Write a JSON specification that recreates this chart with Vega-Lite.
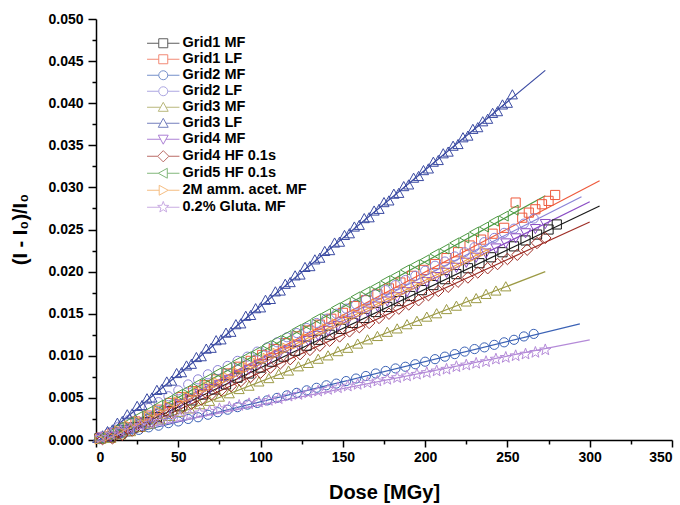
{
"$schema":"https://vega.github.io/schema/vega-lite/v6.json",
"width":576,"height":421,
"autosize":{"type":"none"},
"padding":{"left":96,"top":19,"right":8,"bottom":65},
"background":"white",
"config":{"view":{"stroke":null},"font":"Liberation Sans",
"axis":{"grid":false,"domainColor":"black","tickColor":"black","labelColor":"black","titleColor":"black","labelFont":"Liberation Sans","titleFont":"Liberation Sans","labelFontWeight":"bold","titleFontWeight":"bold","labelFontSize":14,"titleFontSize":20,"domainWidth":1.5,"tickWidth":1.5}},
"datasets":{
"fits":[
{"s":"Grid1 MF","d":8,"v":0},{"s":"Grid1 MF","d":306,"v":0.0278},
{"s":"Grid1 LF","d":5,"v":0},{"s":"Grid1 LF","d":306,"v":0.0308},
{"s":"Grid2 MF","d":5,"v":0},{"s":"Grid2 MF","d":294,"v":0.0138},
{"s":"Grid2 LF","d":3,"v":0},{"s":"Grid2 LF","d":295,"v":0.0289},
{"s":"Grid3 MF","d":8,"v":0},{"s":"Grid3 MF","d":273,"v":0.0200},
{"s":"Grid3 LF","d":2,"v":0},{"s":"Grid3 LF","d":273,"v":0.0439},
{"s":"Grid4 MF","d":6,"v":0},{"s":"Grid4 MF","d":300,"v":0.0283},
{"s":"Grid4 HF 0.1s","d":10,"v":0},{"s":"Grid4 HF 0.1s","d":300,"v":0.0259},
{"s":"Grid5 HF 0.1s","d":3,"v":0},{"s":"Grid5 HF 0.1s","d":273,"v":0.0290},
{"s":"2M amm. acet. MF","d":3,"v":0},{"s":"2M amm. acet. MF","d":240,"v":0.0228},
{"s":"0.2% Gluta. MF","d":0,"v":0.0003},{"s":"0.2% Gluta. MF","d":300,"v":0.0119}
],
"pts":[
{"s":"Grid1 MF","d":2,"v":0.0002},{"s":"Grid1 MF","d":9,"v":0.0004},{"s":"Grid1 MF","d":16,"v":0.0009},{"s":"Grid1 MF","d":23,"v":0.0015},{"s":"Grid1 MF","d":30,"v":0.0021},{"s":"Grid1 MF","d":37,"v":0.0027},{"s":"Grid1 MF","d":44,"v":0.0034},{"s":"Grid1 MF","d":51,"v":0.0040},{"s":"Grid1 MF","d":58,"v":0.0047},{"s":"Grid1 MF","d":65,"v":0.0054},{"s":"Grid1 MF","d":72,"v":0.0060},{"s":"Grid1 MF","d":79,"v":0.0066},{"s":"Grid1 MF","d":86,"v":0.0074},{"s":"Grid1 MF","d":93,"v":0.0079},{"s":"Grid1 MF","d":100,"v":0.0086},{"s":"Grid1 MF","d":107,"v":0.0093},{"s":"Grid1 MF","d":114,"v":0.0099},{"s":"Grid1 MF","d":121,"v":0.0106},{"s":"Grid1 MF","d":128,"v":0.0112},{"s":"Grid1 MF","d":135,"v":0.0119},{"s":"Grid1 MF","d":142,"v":0.0125},{"s":"Grid1 MF","d":149,"v":0.0132},{"s":"Grid1 MF","d":156,"v":0.0139},{"s":"Grid1 MF","d":163,"v":0.0145},{"s":"Grid1 MF","d":170,"v":0.0152},{"s":"Grid1 MF","d":177,"v":0.0158},{"s":"Grid1 MF","d":184,"v":0.0165},{"s":"Grid1 MF","d":191,"v":0.0171},{"s":"Grid1 MF","d":198,"v":0.0178},{"s":"Grid1 MF","d":205,"v":0.0184},{"s":"Grid1 MF","d":212,"v":0.0191},{"s":"Grid1 MF","d":219,"v":0.0197},{"s":"Grid1 MF","d":226,"v":0.0204},{"s":"Grid1 MF","d":233,"v":0.0210},{"s":"Grid1 MF","d":240,"v":0.0217},{"s":"Grid1 MF","d":247,"v":0.0223},{"s":"Grid1 MF","d":254,"v":0.0230},{"s":"Grid1 MF","d":261,"v":0.0237},{"s":"Grid1 MF","d":268,"v":0.0244},{"s":"Grid1 MF","d":275,"v":0.0250},{"s":"Grid1 MF","d":280,"v":0.0256},
{"s":"Grid1 LF","d":3,"v":0.0003},{"s":"Grid1 LF","d":10,"v":0.0008},{"s":"Grid1 LF","d":17,"v":0.0015},{"s":"Grid1 LF","d":24,"v":0.0022},{"s":"Grid1 LF","d":31,"v":0.0029},{"s":"Grid1 LF","d":38,"v":0.0036},{"s":"Grid1 LF","d":45,"v":0.0044},{"s":"Grid1 LF","d":52,"v":0.0051},{"s":"Grid1 LF","d":59,"v":0.0058},{"s":"Grid1 LF","d":66,"v":0.0065},{"s":"Grid1 LF","d":73,"v":0.0072},{"s":"Grid1 LF","d":80,"v":0.0079},{"s":"Grid1 LF","d":87,"v":0.0087},{"s":"Grid1 LF","d":94,"v":0.0094},{"s":"Grid1 LF","d":101,"v":0.0101},{"s":"Grid1 LF","d":108,"v":0.0108},{"s":"Grid1 LF","d":115,"v":0.0115},{"s":"Grid1 LF","d":122,"v":0.0123},{"s":"Grid1 LF","d":129,"v":0.0130},{"s":"Grid1 LF","d":136,"v":0.0137},{"s":"Grid1 LF","d":143,"v":0.0144},{"s":"Grid1 LF","d":150,"v":0.0151},{"s":"Grid1 LF","d":157,"v":0.0159},{"s":"Grid1 LF","d":164,"v":0.0166},{"s":"Grid1 LF","d":171,"v":0.0173},{"s":"Grid1 LF","d":178,"v":0.0180},{"s":"Grid1 LF","d":185,"v":0.0187},{"s":"Grid1 LF","d":192,"v":0.0195},{"s":"Grid1 LF","d":199,"v":0.0202},{"s":"Grid1 LF","d":206,"v":0.0209},{"s":"Grid1 LF","d":213,"v":0.0216},{"s":"Grid1 LF","d":220,"v":0.0223},{"s":"Grid1 LF","d":227,"v":0.0231},{"s":"Grid1 LF","d":234,"v":0.0238},{"s":"Grid1 LF","d":241,"v":0.0245},{"s":"Grid1 LF","d":248,"v":0.0252},{"s":"Grid1 LF","d":255,"v":0.0282},{"s":"Grid1 LF","d":259,"v":0.0264},{"s":"Grid1 LF","d":263,"v":0.0270},{"s":"Grid1 LF","d":267,"v":0.0274},{"s":"Grid1 LF","d":271,"v":0.0280},{"s":"Grid1 LF","d":275,"v":0.0284},{"s":"Grid1 LF","d":279,"v":0.0291},
{"s":"Grid2 MF","d":2,"v":0.0001},{"s":"Grid2 MF","d":8,"v":0.0004},{"s":"Grid2 MF","d":14,"v":0.0007},{"s":"Grid2 MF","d":20,"v":0.0010},{"s":"Grid2 MF","d":26,"v":0.0012},{"s":"Grid2 MF","d":32,"v":0.0015},{"s":"Grid2 MF","d":38,"v":0.0017},{"s":"Grid2 MF","d":44,"v":0.0020},{"s":"Grid2 MF","d":50,"v":0.0022},{"s":"Grid2 MF","d":56,"v":0.0025},{"s":"Grid2 MF","d":62,"v":0.0027},{"s":"Grid2 MF","d":68,"v":0.0030},{"s":"Grid2 MF","d":74,"v":0.0033},{"s":"Grid2 MF","d":80,"v":0.0036},{"s":"Grid2 MF","d":86,"v":0.0039},{"s":"Grid2 MF","d":92,"v":0.0042},{"s":"Grid2 MF","d":98,"v":0.0044},{"s":"Grid2 MF","d":104,"v":0.0047},{"s":"Grid2 MF","d":110,"v":0.0050},{"s":"Grid2 MF","d":116,"v":0.0053},{"s":"Grid2 MF","d":122,"v":0.0056},{"s":"Grid2 MF","d":128,"v":0.0059},{"s":"Grid2 MF","d":134,"v":0.0062},{"s":"Grid2 MF","d":140,"v":0.0065},{"s":"Grid2 MF","d":146,"v":0.0067},{"s":"Grid2 MF","d":152,"v":0.0070},{"s":"Grid2 MF","d":158,"v":0.0073},{"s":"Grid2 MF","d":164,"v":0.0076},{"s":"Grid2 MF","d":170,"v":0.0079},{"s":"Grid2 MF","d":176,"v":0.0082},{"s":"Grid2 MF","d":182,"v":0.0085},{"s":"Grid2 MF","d":188,"v":0.0087},{"s":"Grid2 MF","d":194,"v":0.0090},{"s":"Grid2 MF","d":200,"v":0.0093},{"s":"Grid2 MF","d":206,"v":0.0096},{"s":"Grid2 MF","d":212,"v":0.0099},{"s":"Grid2 MF","d":218,"v":0.0102},{"s":"Grid2 MF","d":224,"v":0.0105},{"s":"Grid2 MF","d":230,"v":0.0108},{"s":"Grid2 MF","d":236,"v":0.0110},{"s":"Grid2 MF","d":242,"v":0.0113},{"s":"Grid2 MF","d":248,"v":0.0116},{"s":"Grid2 MF","d":254,"v":0.0119},{"s":"Grid2 MF","d":260,"v":0.0123},{"s":"Grid2 MF","d":266,"v":0.0126},
{"s":"Grid2 LF","d":2,"v":0.0003},{"s":"Grid2 LF","d":8,"v":0.0009},{"s":"Grid2 LF","d":14,"v":0.0016},{"s":"Grid2 LF","d":20,"v":0.0024},{"s":"Grid2 LF","d":26,"v":0.0031},{"s":"Grid2 LF","d":32,"v":0.0038},{"s":"Grid2 LF","d":38,"v":0.0045},{"s":"Grid2 LF","d":44,"v":0.0052},{"s":"Grid2 LF","d":50,"v":0.0059},{"s":"Grid2 LF","d":56,"v":0.0066},{"s":"Grid2 LF","d":62,"v":0.0072},{"s":"Grid2 LF","d":68,"v":0.0078},{"s":"Grid2 LF","d":74,"v":0.0083},{"s":"Grid2 LF","d":80,"v":0.0088},{"s":"Grid2 LF","d":86,"v":0.0094},{"s":"Grid2 LF","d":92,"v":0.0099},{"s":"Grid2 LF","d":98,"v":0.0105},{"s":"Grid2 LF","d":104,"v":0.0110},{"s":"Grid2 LF","d":110,"v":0.0116},{"s":"Grid2 LF","d":116,"v":0.0122},{"s":"Grid2 LF","d":122,"v":0.0127},{"s":"Grid2 LF","d":128,"v":0.0133},{"s":"Grid2 LF","d":134,"v":0.0139},{"s":"Grid2 LF","d":140,"v":0.0144},{"s":"Grid2 LF","d":146,"v":0.0150},{"s":"Grid2 LF","d":152,"v":0.0156},{"s":"Grid2 LF","d":158,"v":0.0161},{"s":"Grid2 LF","d":164,"v":0.0167},{"s":"Grid2 LF","d":170,"v":0.0173},{"s":"Grid2 LF","d":176,"v":0.0178},{"s":"Grid2 LF","d":182,"v":0.0184},{"s":"Grid2 LF","d":188,"v":0.0190},{"s":"Grid2 LF","d":194,"v":0.0195},{"s":"Grid2 LF","d":200,"v":0.0201},{"s":"Grid2 LF","d":206,"v":0.0207},{"s":"Grid2 LF","d":212,"v":0.0212},{"s":"Grid2 LF","d":218,"v":0.0218},{"s":"Grid2 LF","d":224,"v":0.0223},{"s":"Grid2 LF","d":230,"v":0.0229},{"s":"Grid2 LF","d":236,"v":0.0235},{"s":"Grid2 LF","d":242,"v":0.0240},{"s":"Grid2 LF","d":248,"v":0.0246},{"s":"Grid2 LF","d":254,"v":0.0251},{"s":"Grid2 LF","d":260,"v":0.0257},{"s":"Grid2 LF","d":266,"v":0.0263},
{"s":"Grid3 MF","d":3,"v":0.0001},{"s":"Grid3 MF","d":9,"v":0.0002},{"s":"Grid3 MF","d":15,"v":0.0006},{"s":"Grid3 MF","d":21,"v":0.0010},{"s":"Grid3 MF","d":27,"v":0.0015},{"s":"Grid3 MF","d":33,"v":0.0019},{"s":"Grid3 MF","d":39,"v":0.0024},{"s":"Grid3 MF","d":45,"v":0.0028},{"s":"Grid3 MF","d":51,"v":0.0033},{"s":"Grid3 MF","d":57,"v":0.0037},{"s":"Grid3 MF","d":63,"v":0.0042},{"s":"Grid3 MF","d":69,"v":0.0046},{"s":"Grid3 MF","d":75,"v":0.0051},{"s":"Grid3 MF","d":81,"v":0.0055},{"s":"Grid3 MF","d":87,"v":0.0060},{"s":"Grid3 MF","d":93,"v":0.0064},{"s":"Grid3 MF","d":99,"v":0.0069},{"s":"Grid3 MF","d":105,"v":0.0073},{"s":"Grid3 MF","d":111,"v":0.0078},{"s":"Grid3 MF","d":117,"v":0.0082},{"s":"Grid3 MF","d":123,"v":0.0087},{"s":"Grid3 MF","d":129,"v":0.0091},{"s":"Grid3 MF","d":135,"v":0.0096},{"s":"Grid3 MF","d":141,"v":0.0100},{"s":"Grid3 MF","d":147,"v":0.0105},{"s":"Grid3 MF","d":153,"v":0.0109},{"s":"Grid3 MF","d":159,"v":0.0114},{"s":"Grid3 MF","d":165,"v":0.0119},{"s":"Grid3 MF","d":171,"v":0.0123},{"s":"Grid3 MF","d":177,"v":0.0128},{"s":"Grid3 MF","d":183,"v":0.0132},{"s":"Grid3 MF","d":189,"v":0.0137},{"s":"Grid3 MF","d":195,"v":0.0141},{"s":"Grid3 MF","d":201,"v":0.0146},{"s":"Grid3 MF","d":207,"v":0.0150},{"s":"Grid3 MF","d":213,"v":0.0155},{"s":"Grid3 MF","d":219,"v":0.0159},{"s":"Grid3 MF","d":225,"v":0.0164},{"s":"Grid3 MF","d":231,"v":0.0168},{"s":"Grid3 MF","d":237,"v":0.0173},{"s":"Grid3 MF","d":243,"v":0.0177},{"s":"Grid3 MF","d":249,"v":0.0182},
{"s":"Grid3 LF","d":1,"v":0.0002},{"s":"Grid3 LF","d":4,"v":0.0005},{"s":"Grid3 LF","d":7,"v":0.0010},{"s":"Grid3 LF","d":10,"v":0.0012},{"s":"Grid3 LF","d":13,"v":0.0020},{"s":"Grid3 LF","d":16,"v":0.0022},{"s":"Grid3 LF","d":19,"v":0.0030},{"s":"Grid3 LF","d":22,"v":0.0031},{"s":"Grid3 LF","d":25,"v":0.0040},{"s":"Grid3 LF","d":28,"v":0.0041},{"s":"Grid3 LF","d":31,"v":0.0049},{"s":"Grid3 LF","d":34,"v":0.0050},{"s":"Grid3 LF","d":37,"v":0.0059},{"s":"Grid3 LF","d":40,"v":0.0060},{"s":"Grid3 LF","d":43,"v":0.0069},{"s":"Grid3 LF","d":46,"v":0.0070},{"s":"Grid3 LF","d":49,"v":0.0079},{"s":"Grid3 LF","d":52,"v":0.0080},{"s":"Grid3 LF","d":55,"v":0.0088},{"s":"Grid3 LF","d":58,"v":0.0090},{"s":"Grid3 LF","d":61,"v":0.0098},{"s":"Grid3 LF","d":64,"v":0.0099},{"s":"Grid3 LF","d":67,"v":0.0108},{"s":"Grid3 LF","d":70,"v":0.0109},{"s":"Grid3 LF","d":73,"v":0.0118},{"s":"Grid3 LF","d":76,"v":0.0119},{"s":"Grid3 LF","d":79,"v":0.0127},{"s":"Grid3 LF","d":82,"v":0.0128},{"s":"Grid3 LF","d":85,"v":0.0137},{"s":"Grid3 LF","d":88,"v":0.0138},{"s":"Grid3 LF","d":91,"v":0.0147},{"s":"Grid3 LF","d":94,"v":0.0148},{"s":"Grid3 LF","d":97,"v":0.0156},{"s":"Grid3 LF","d":100,"v":0.0157},{"s":"Grid3 LF","d":103,"v":0.0166},{"s":"Grid3 LF","d":106,"v":0.0167},{"s":"Grid3 LF","d":109,"v":0.0176},{"s":"Grid3 LF","d":112,"v":0.0177},{"s":"Grid3 LF","d":115,"v":0.0185},{"s":"Grid3 LF","d":118,"v":0.0187},{"s":"Grid3 LF","d":121,"v":0.0195},{"s":"Grid3 LF","d":124,"v":0.0196},{"s":"Grid3 LF","d":127,"v":0.0205},{"s":"Grid3 LF","d":130,"v":0.0206},{"s":"Grid3 LF","d":133,"v":0.0214},{"s":"Grid3 LF","d":136,"v":0.0216},{"s":"Grid3 LF","d":139,"v":0.0224},{"s":"Grid3 LF","d":142,"v":0.0225},{"s":"Grid3 LF","d":145,"v":0.0234},{"s":"Grid3 LF","d":148,"v":0.0235},{"s":"Grid3 LF","d":151,"v":0.0243},{"s":"Grid3 LF","d":154,"v":0.0245},{"s":"Grid3 LF","d":157,"v":0.0253},{"s":"Grid3 LF","d":160,"v":0.0255},{"s":"Grid3 LF","d":163,"v":0.0263},{"s":"Grid3 LF","d":166,"v":0.0264},{"s":"Grid3 LF","d":169,"v":0.0272},{"s":"Grid3 LF","d":172,"v":0.0274},{"s":"Grid3 LF","d":175,"v":0.0282},{"s":"Grid3 LF","d":178,"v":0.0284},{"s":"Grid3 LF","d":181,"v":0.0292},{"s":"Grid3 LF","d":184,"v":0.0293},{"s":"Grid3 LF","d":187,"v":0.0301},{"s":"Grid3 LF","d":190,"v":0.0303},{"s":"Grid3 LF","d":193,"v":0.0311},{"s":"Grid3 LF","d":196,"v":0.0313},{"s":"Grid3 LF","d":199,"v":0.0320},{"s":"Grid3 LF","d":202,"v":0.0322},{"s":"Grid3 LF","d":205,"v":0.0330},{"s":"Grid3 LF","d":208,"v":0.0332},{"s":"Grid3 LF","d":211,"v":0.0340},{"s":"Grid3 LF","d":214,"v":0.0342},{"s":"Grid3 LF","d":217,"v":0.0349},{"s":"Grid3 LF","d":220,"v":0.0351},{"s":"Grid3 LF","d":223,"v":0.0359},{"s":"Grid3 LF","d":226,"v":0.0361},{"s":"Grid3 LF","d":229,"v":0.0369},{"s":"Grid3 LF","d":232,"v":0.0371},{"s":"Grid3 LF","d":235,"v":0.0378},{"s":"Grid3 LF","d":238,"v":0.0381},{"s":"Grid3 LF","d":241,"v":0.0388},{"s":"Grid3 LF","d":244,"v":0.0390},{"s":"Grid3 LF","d":247,"v":0.0398},{"s":"Grid3 LF","d":250,"v":0.0400},{"s":"Grid3 LF","d":253,"v":0.0410},
{"s":"Grid4 MF","d":3,"v":0.0002},{"s":"Grid4 MF","d":9,"v":0.0004},{"s":"Grid4 MF","d":15,"v":0.0009},{"s":"Grid4 MF","d":21,"v":0.0014},{"s":"Grid4 MF","d":27,"v":0.0020},{"s":"Grid4 MF","d":33,"v":0.0026},{"s":"Grid4 MF","d":39,"v":0.0032},{"s":"Grid4 MF","d":45,"v":0.0038},{"s":"Grid4 MF","d":51,"v":0.0043},{"s":"Grid4 MF","d":57,"v":0.0049},{"s":"Grid4 MF","d":63,"v":0.0055},{"s":"Grid4 MF","d":69,"v":0.0061},{"s":"Grid4 MF","d":75,"v":0.0066},{"s":"Grid4 MF","d":81,"v":0.0072},{"s":"Grid4 MF","d":87,"v":0.0078},{"s":"Grid4 MF","d":93,"v":0.0084},{"s":"Grid4 MF","d":99,"v":0.0090},{"s":"Grid4 MF","d":105,"v":0.0095},{"s":"Grid4 MF","d":111,"v":0.0101},{"s":"Grid4 MF","d":117,"v":0.0107},{"s":"Grid4 MF","d":123,"v":0.0113},{"s":"Grid4 MF","d":129,"v":0.0118},{"s":"Grid4 MF","d":135,"v":0.0124},{"s":"Grid4 MF","d":141,"v":0.0130},{"s":"Grid4 MF","d":147,"v":0.0136},{"s":"Grid4 MF","d":153,"v":0.0142},{"s":"Grid4 MF","d":159,"v":0.0147},{"s":"Grid4 MF","d":165,"v":0.0153},{"s":"Grid4 MF","d":171,"v":0.0159},{"s":"Grid4 MF","d":177,"v":0.0165},{"s":"Grid4 MF","d":183,"v":0.0170},{"s":"Grid4 MF","d":189,"v":0.0176},{"s":"Grid4 MF","d":195,"v":0.0182},{"s":"Grid4 MF","d":201,"v":0.0188},{"s":"Grid4 MF","d":207,"v":0.0194},{"s":"Grid4 MF","d":213,"v":0.0199},{"s":"Grid4 MF","d":219,"v":0.0205},{"s":"Grid4 MF","d":225,"v":0.0211},{"s":"Grid4 MF","d":231,"v":0.0217},{"s":"Grid4 MF","d":237,"v":0.0222},{"s":"Grid4 MF","d":243,"v":0.0228},{"s":"Grid4 MF","d":249,"v":0.0234},{"s":"Grid4 MF","d":255,"v":0.0240},{"s":"Grid4 MF","d":261,"v":0.0246},{"s":"Grid4 MF","d":267,"v":0.0251},{"s":"Grid4 MF","d":273,"v":0.0257},
{"s":"Grid4 HF 0.1s","d":4,"v":0.0001},{"s":"Grid4 HF 0.1s","d":10,"v":0.0002},{"s":"Grid4 HF 0.1s","d":16,"v":0.0006},{"s":"Grid4 HF 0.1s","d":22,"v":0.0011},{"s":"Grid4 HF 0.1s","d":28,"v":0.0016},{"s":"Grid4 HF 0.1s","d":34,"v":0.0022},{"s":"Grid4 HF 0.1s","d":40,"v":0.0027},{"s":"Grid4 HF 0.1s","d":46,"v":0.0032},{"s":"Grid4 HF 0.1s","d":52,"v":0.0038},{"s":"Grid4 HF 0.1s","d":58,"v":0.0043},{"s":"Grid4 HF 0.1s","d":64,"v":0.0048},{"s":"Grid4 HF 0.1s","d":70,"v":0.0054},{"s":"Grid4 HF 0.1s","d":76,"v":0.0059},{"s":"Grid4 HF 0.1s","d":82,"v":0.0064},{"s":"Grid4 HF 0.1s","d":88,"v":0.0070},{"s":"Grid4 HF 0.1s","d":94,"v":0.0075},{"s":"Grid4 HF 0.1s","d":100,"v":0.0080},{"s":"Grid4 HF 0.1s","d":106,"v":0.0086},{"s":"Grid4 HF 0.1s","d":112,"v":0.0091},{"s":"Grid4 HF 0.1s","d":118,"v":0.0096},{"s":"Grid4 HF 0.1s","d":124,"v":0.0102},{"s":"Grid4 HF 0.1s","d":130,"v":0.0107},{"s":"Grid4 HF 0.1s","d":136,"v":0.0112},{"s":"Grid4 HF 0.1s","d":142,"v":0.0118},{"s":"Grid4 HF 0.1s","d":148,"v":0.0123},{"s":"Grid4 HF 0.1s","d":154,"v":0.0129},{"s":"Grid4 HF 0.1s","d":160,"v":0.0134},{"s":"Grid4 HF 0.1s","d":166,"v":0.0139},{"s":"Grid4 HF 0.1s","d":172,"v":0.0145},{"s":"Grid4 HF 0.1s","d":178,"v":0.0150},{"s":"Grid4 HF 0.1s","d":184,"v":0.0156},{"s":"Grid4 HF 0.1s","d":190,"v":0.0161},{"s":"Grid4 HF 0.1s","d":196,"v":0.0166},{"s":"Grid4 HF 0.1s","d":202,"v":0.0172},{"s":"Grid4 HF 0.1s","d":208,"v":0.0177},{"s":"Grid4 HF 0.1s","d":214,"v":0.0182},{"s":"Grid4 HF 0.1s","d":220,"v":0.0188},{"s":"Grid4 HF 0.1s","d":226,"v":0.0193},{"s":"Grid4 HF 0.1s","d":232,"v":0.0199},{"s":"Grid4 HF 0.1s","d":238,"v":0.0204},{"s":"Grid4 HF 0.1s","d":244,"v":0.0209},{"s":"Grid4 HF 0.1s","d":250,"v":0.0215},{"s":"Grid4 HF 0.1s","d":256,"v":0.0220},{"s":"Grid4 HF 0.1s","d":262,"v":0.0226},{"s":"Grid4 HF 0.1s","d":268,"v":0.0234},{"s":"Grid4 HF 0.1s","d":273,"v":0.0240},
{"s":"Grid5 HF 0.1s","d":2,"v":0.0002},{"s":"Grid5 HF 0.1s","d":8,"v":0.0007},{"s":"Grid5 HF 0.1s","d":14,"v":0.0015},{"s":"Grid5 HF 0.1s","d":20,"v":0.0021},{"s":"Grid5 HF 0.1s","d":26,"v":0.0028},{"s":"Grid5 HF 0.1s","d":32,"v":0.0034},{"s":"Grid5 HF 0.1s","d":38,"v":0.0041},{"s":"Grid5 HF 0.1s","d":44,"v":0.0047},{"s":"Grid5 HF 0.1s","d":50,"v":0.0054},{"s":"Grid5 HF 0.1s","d":56,"v":0.0060},{"s":"Grid5 HF 0.1s","d":62,"v":0.0067},{"s":"Grid5 HF 0.1s","d":68,"v":0.0073},{"s":"Grid5 HF 0.1s","d":74,"v":0.0080},{"s":"Grid5 HF 0.1s","d":80,"v":0.0086},{"s":"Grid5 HF 0.1s","d":86,"v":0.0093},{"s":"Grid5 HF 0.1s","d":92,"v":0.0099},{"s":"Grid5 HF 0.1s","d":98,"v":0.0105},{"s":"Grid5 HF 0.1s","d":104,"v":0.0112},{"s":"Grid5 HF 0.1s","d":110,"v":0.0118},{"s":"Grid5 HF 0.1s","d":116,"v":0.0124},{"s":"Grid5 HF 0.1s","d":122,"v":0.0131},{"s":"Grid5 HF 0.1s","d":128,"v":0.0137},{"s":"Grid5 HF 0.1s","d":134,"v":0.0144},{"s":"Grid5 HF 0.1s","d":140,"v":0.0150},{"s":"Grid5 HF 0.1s","d":146,"v":0.0157},{"s":"Grid5 HF 0.1s","d":152,"v":0.0163},{"s":"Grid5 HF 0.1s","d":158,"v":0.0170},{"s":"Grid5 HF 0.1s","d":164,"v":0.0176},{"s":"Grid5 HF 0.1s","d":170,"v":0.0182},{"s":"Grid5 HF 0.1s","d":176,"v":0.0189},{"s":"Grid5 HF 0.1s","d":182,"v":0.0195},{"s":"Grid5 HF 0.1s","d":188,"v":0.0202},{"s":"Grid5 HF 0.1s","d":194,"v":0.0208},{"s":"Grid5 HF 0.1s","d":200,"v":0.0214},{"s":"Grid5 HF 0.1s","d":206,"v":0.0221},{"s":"Grid5 HF 0.1s","d":212,"v":0.0227},{"s":"Grid5 HF 0.1s","d":218,"v":0.0234},{"s":"Grid5 HF 0.1s","d":224,"v":0.0240},{"s":"Grid5 HF 0.1s","d":230,"v":0.0247},{"s":"Grid5 HF 0.1s","d":236,"v":0.0253},{"s":"Grid5 HF 0.1s","d":242,"v":0.0260},{"s":"Grid5 HF 0.1s","d":248,"v":0.0266},{"s":"Grid5 HF 0.1s","d":254,"v":0.0273},
{"s":"2M amm. acet. MF","d":2,"v":0.0001},{"s":"2M amm. acet. MF","d":8,"v":0.0005},{"s":"2M amm. acet. MF","d":14,"v":0.0011},{"s":"2M amm. acet. MF","d":20,"v":0.0017},{"s":"2M amm. acet. MF","d":26,"v":0.0022},{"s":"2M amm. acet. MF","d":32,"v":0.0028},{"s":"2M amm. acet. MF","d":38,"v":0.0034},{"s":"2M amm. acet. MF","d":44,"v":0.0040},{"s":"2M amm. acet. MF","d":50,"v":0.0045},{"s":"2M amm. acet. MF","d":56,"v":0.0051},{"s":"2M amm. acet. MF","d":62,"v":0.0057},{"s":"2M amm. acet. MF","d":68,"v":0.0063},{"s":"2M amm. acet. MF","d":74,"v":0.0068},{"s":"2M amm. acet. MF","d":80,"v":0.0074},{"s":"2M amm. acet. MF","d":86,"v":0.0080},{"s":"2M amm. acet. MF","d":92,"v":0.0086},{"s":"2M amm. acet. MF","d":98,"v":0.0091},{"s":"2M amm. acet. MF","d":104,"v":0.0097},{"s":"2M amm. acet. MF","d":110,"v":0.0103},{"s":"2M amm. acet. MF","d":116,"v":0.0109},{"s":"2M amm. acet. MF","d":122,"v":0.0114},{"s":"2M amm. acet. MF","d":128,"v":0.0120},{"s":"2M amm. acet. MF","d":134,"v":0.0126},{"s":"2M amm. acet. MF","d":140,"v":0.0132},{"s":"2M amm. acet. MF","d":146,"v":0.0138},{"s":"2M amm. acet. MF","d":152,"v":0.0143},{"s":"2M amm. acet. MF","d":158,"v":0.0149},{"s":"2M amm. acet. MF","d":164,"v":0.0155},{"s":"2M amm. acet. MF","d":170,"v":0.0161},{"s":"2M amm. acet. MF","d":176,"v":0.0166},{"s":"2M amm. acet. MF","d":182,"v":0.0172},{"s":"2M amm. acet. MF","d":188,"v":0.0178},{"s":"2M amm. acet. MF","d":194,"v":0.0184},{"s":"2M amm. acet. MF","d":200,"v":0.0190},{"s":"2M amm. acet. MF","d":206,"v":0.0195},{"s":"2M amm. acet. MF","d":212,"v":0.0201},{"s":"2M amm. acet. MF","d":218,"v":0.0207},{"s":"2M amm. acet. MF","d":224,"v":0.0213},{"s":"2M amm. acet. MF","d":230,"v":0.0218},{"s":"2M amm. acet. MF","d":236,"v":0.0224},
{"s":"0.2% Gluta. MF","d":3,"v":0.0003},{"s":"0.2% Gluta. MF","d":9,"v":0.0007},{"s":"0.2% Gluta. MF","d":15,"v":0.0011},{"s":"0.2% Gluta. MF","d":21,"v":0.0014},{"s":"0.2% Gluta. MF","d":27,"v":0.0017},{"s":"0.2% Gluta. MF","d":33,"v":0.0020},{"s":"0.2% Gluta. MF","d":39,"v":0.0022},{"s":"0.2% Gluta. MF","d":45,"v":0.0025},{"s":"0.2% Gluta. MF","d":51,"v":0.0027},{"s":"0.2% Gluta. MF","d":57,"v":0.0030},{"s":"0.2% Gluta. MF","d":63,"v":0.0032},{"s":"0.2% Gluta. MF","d":69,"v":0.0034},{"s":"0.2% Gluta. MF","d":75,"v":0.0037},{"s":"0.2% Gluta. MF","d":81,"v":0.0039},{"s":"0.2% Gluta. MF","d":87,"v":0.0041},{"s":"0.2% Gluta. MF","d":93,"v":0.0043},{"s":"0.2% Gluta. MF","d":99,"v":0.0045},{"s":"0.2% Gluta. MF","d":105,"v":0.0047},{"s":"0.2% Gluta. MF","d":111,"v":0.0049},{"s":"0.2% Gluta. MF","d":117,"v":0.0052},{"s":"0.2% Gluta. MF","d":123,"v":0.0054},{"s":"0.2% Gluta. MF","d":129,"v":0.0056},{"s":"0.2% Gluta. MF","d":135,"v":0.0058},{"s":"0.2% Gluta. MF","d":141,"v":0.0060},{"s":"0.2% Gluta. MF","d":147,"v":0.0062},{"s":"0.2% Gluta. MF","d":153,"v":0.0064},{"s":"0.2% Gluta. MF","d":159,"v":0.0066},{"s":"0.2% Gluta. MF","d":165,"v":0.0068},{"s":"0.2% Gluta. MF","d":171,"v":0.0070},{"s":"0.2% Gluta. MF","d":177,"v":0.0072},{"s":"0.2% Gluta. MF","d":183,"v":0.0074},{"s":"0.2% Gluta. MF","d":189,"v":0.0076},{"s":"0.2% Gluta. MF","d":195,"v":0.0078},{"s":"0.2% Gluta. MF","d":201,"v":0.0080},{"s":"0.2% Gluta. MF","d":207,"v":0.0082},{"s":"0.2% Gluta. MF","d":213,"v":0.0084},{"s":"0.2% Gluta. MF","d":219,"v":0.0087},{"s":"0.2% Gluta. MF","d":225,"v":0.0089},{"s":"0.2% Gluta. MF","d":231,"v":0.0091},{"s":"0.2% Gluta. MF","d":237,"v":0.0093},{"s":"0.2% Gluta. MF","d":243,"v":0.0096},{"s":"0.2% Gluta. MF","d":249,"v":0.0098},{"s":"0.2% Gluta. MF","d":255,"v":0.0100},{"s":"0.2% Gluta. MF","d":261,"v":0.0102},{"s":"0.2% Gluta. MF","d":267,"v":0.0104},{"s":"0.2% Gluta. MF","d":273,"v":0.0107}
]},
"layer":[
{"data":{"name":"fits"},
"mark":{"type":"line","strokeWidth":1.2,"clip":false},
"encoding":{
"x":{"field":"d","type":"quantitative","scale":{"domain":[0,350],"nice":false,"zero":false},
"axis":{"orient":"bottom","values":[25,75,125,175,225,275,325],"labels":false,"domain":false,"tickSize":4,"title":null}},
"y":{"field":"v","type":"quantitative","scale":{"domain":[0,0.05],"nice":false},
"axis":{"orient":"left","values":[0.0025,0.0075,0.0125,0.0175,0.0225,0.0275,0.0325,0.0375,0.0425,0.0475],"labels":false,"domain":false,"tickSize":4,"title":null}},
"stroke":{"field":"s","type":"nominal","legend":null,
"scale":{"domain":["0.2% Gluta. MF","2M amm. acet. MF","Grid5 HF 0.1s","Grid4 HF 0.1s","Grid4 MF","Grid3 LF","Grid3 MF","Grid2 LF","Grid2 MF","Grid1 LF","Grid1 MF"],
"range":["#b48ad8","#f2a24e","#4e9a44","#9e2e26","#8a4cc4","#3a4aa2","#9c9a45","#8a82d6","#3b62b5","#ee5a3c","#1a1a1a"]}}
}},
{"data":{"name":"pts"},
"mark":{"type":"point","filled":false,"size":84,"strokeWidth":1,"opacity":1},
"encoding":{
"x":{"field":"d","type":"quantitative",
"axis":{"orient":"bottom","values":[0,50,100,150,200,250,300,350],"tickSize":7,"labelPadding":3,"title":"Dose [MGy]","titleX":288,"titleY":52,"titleBaseline":"middle"}},
"y":{"field":"v","type":"quantitative",
"axis":{"orient":"left","values":[0,0.005,0.01,0.015,0.02,0.025,0.03,0.035,0.04,0.045,0.05],"format":".3f","tickSize":8,"labelPadding":5,"title":"(I - I₀)/I₀","titleX":-76,"titleY":210,"titleBaseline":"middle","titleAngle":270}},
"color":{"field":"s","type":"nominal","legend":null,
"scale":{"domain":["0.2% Gluta. MF","2M amm. acet. MF","Grid5 HF 0.1s","Grid4 HF 0.1s","Grid4 MF","Grid3 LF","Grid3 MF","Grid2 LF","Grid2 MF","Grid1 LF","Grid1 MF"],
"range":["#b48ad8","#f2a24e","#4e9a44","#9e2e26","#8a4cc4","#3a4aa2","#9c9a45","#8a82d6","#3b62b5","#ee5a3c","#1a1a1a"]}},
"shape":{"field":"s","type":"nominal","legend":null,
"scale":{"domain":["0.2% Gluta. MF","2M amm. acet. MF","Grid5 HF 0.1s","Grid4 HF 0.1s","Grid4 MF","Grid3 LF","Grid3 MF","Grid2 LF","Grid2 MF","Grid1 LF","Grid1 MF"],
"range":["M0,-1.3L0.32,-0.44L1.24,-0.4L0.52,0.17L0.76,1.05L0,0.54L-0.76,1.05L-0.52,0.17L-1.24,-0.4L-0.32,-0.44Z","M1.1,0L-0.9,-1.1V1.1Z","M-1.1,0L0.9,-1.1V1.1Z","M0,-1.25L1.25,0L0,1.25L-1.25,0Z","M0,1.1L1.1,-0.9H-1.1Z","M0,-1.1L1.1,0.9H-1.1Z","M0,-1.1L1.1,0.9H-1.1Z","M1,0A1,1,0,1,1,-1,0A1,1,0,1,1,1,0Z","M1,0A1,1,0,1,1,-1,0A1,1,0,1,1,1,0Z","M-1,-1H1V1H-1Z","M-1,-1H1V1H-1Z"]}}
}},
{"data":{"name":"pts"},
"transform":[{"filter":"false"}],
"mark":{"type":"point","filled":false,"size":81,"strokeWidth":1},
"encoding":{
"color":{"field":"s","type":"nominal",
"scale":{"domain":["Grid1 MF","Grid1 LF","Grid2 MF","Grid2 LF","Grid3 MF","Grid3 LF","Grid4 MF","Grid4 HF 0.1s","Grid5 HF 0.1s","2M amm. acet. MF","0.2% Gluta. MF"],
"range":["#1a1a1a","#ee5a3c","#3b62b5","#8a82d6","#9c9a45","#3a4aa2","#8a4cc4","#9e2e26","#4e9a44","#f2a24e","#b48ad8"]},
"legend":{"title":null,"orient":"none","legendX":60,"legendY":17,"padding":0,"labelFont":"Liberation Sans","labelFontWeight":"bold","labelFontSize":14.5,"labelColor":"black","symbolSize":81,"symbolStrokeWidth":1,"rowPadding":1,"labelOffset":12}},
"shape":{"field":"s","type":"nominal",
"scale":{"domain":["Grid1 MF","Grid1 LF","Grid2 MF","Grid2 LF","Grid3 MF","Grid3 LF","Grid4 MF","Grid4 HF 0.1s","Grid5 HF 0.1s","2M amm. acet. MF","0.2% Gluta. MF"],
"range":["M-3.6,0H-1M1,0H3.6M-1,-1H1V1H-1Z","M-3.6,0H-1M1,0H3.6M-1,-1H1V1H-1Z","M-3.6,0H-1M1,0H3.6M1,0A1,1,0,1,1,-1,0A1,1,0,1,1,1,0Z","M-3.6,0H-1M1,0H3.6M1,0A1,1,0,1,1,-1,0A1,1,0,1,1,1,0Z","M-3.6,0H-0.6M0.6,0H3.6M0,-1.1L1.1,0.9H-1.1Z","M-3.6,0H-0.6M0.6,0H3.6M0,-1.1L1.1,0.9H-1.1Z","M-3.6,0H-0.6M0.6,0H3.6M0,1.1L1.1,-0.9H-1.1Z","M-3.6,0H-1.25M1.25,0H3.6M0,-1.25L1.25,0L0,1.25L-1.25,0Z","M-3.6,0H-1.1M0.9,0H3.6M-1.1,0L0.9,-1.1V1.1Z","M-3.6,0H-0.9M1.1,0H3.6M1.1,0L-0.9,-1.1V1.1Z","M-3.6,0H-0.75M0.75,0H3.6M0,-1.3L0.32,-0.44L1.24,-0.4L0.52,0.17L0.76,1.05L0,0.54L-0.76,1.05L-0.52,0.17L-1.24,-0.4L-0.32,-0.44Z"]},
"legend":{"title":null,"orient":"none","legendX":60,"legendY":17,"padding":0,"labelFont":"Liberation Sans","labelFontWeight":"bold","labelFontSize":14.5,"labelColor":"black","symbolSize":81,"symbolStrokeWidth":1,"rowPadding":1,"labelOffset":12}}
}}
],
"resolve":{"axis":{"x":"independent","y":"independent"},"scale":{"color":"independent","shape":"independent"}}
}
